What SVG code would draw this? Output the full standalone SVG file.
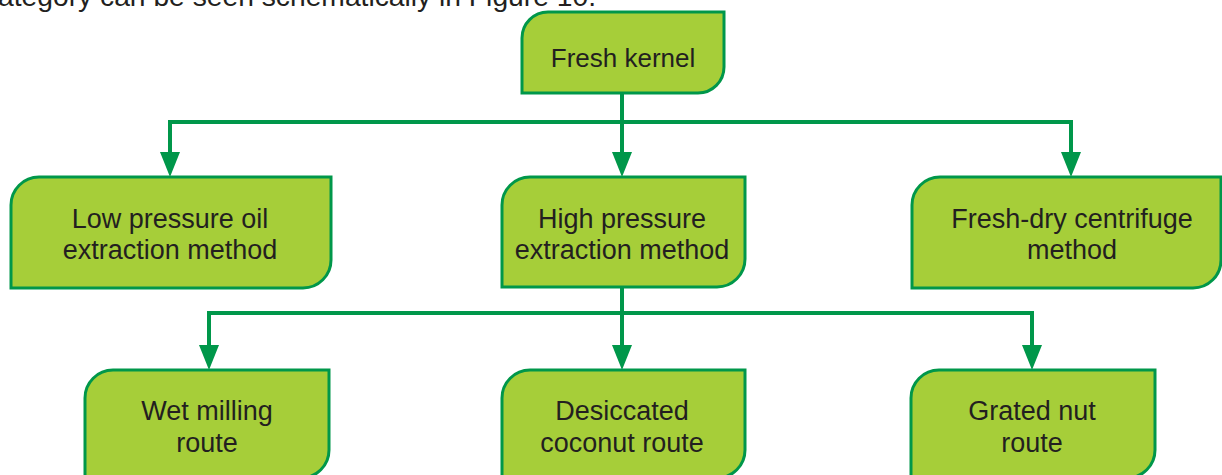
<svg xmlns="http://www.w3.org/2000/svg" width="1222" height="475" viewBox="0 0 1222 475">
  <style>
    .box { fill: #a6ce39; stroke: #00974a; stroke-width: 3; }
    .lbl { font-family: "Liberation Sans", Arial, sans-serif; font-size: 27px; fill: #231f20; text-anchor: middle; }
    .body { font-family: "Liberation Sans", Arial, sans-serif; font-size: 28px; fill: #231f20; }
    .wire { fill: none; stroke: #00974a; stroke-width: 4; marker-end: url(#head); }
  </style>
  <defs>
    <marker id="head" markerUnits="userSpaceOnUse" viewBox="0 0 25 20" markerWidth="25" markerHeight="20" refX="0" refY="10" orient="auto">
      <path d="M0,0 L25,10 L0,20 Z" fill="#00974a"/>
    </marker>
  </defs>

  <!-- tail of the running paragraph above the chart -->
  <text class="body" x="-2" y="6" textLength="598" lengthAdjust="spacingAndGlyphs">ategory can be seen schematically in Figure 10.</text>

  <g id="connectors">
    <path class="wire" d="M622,93 V152"/>
    <path class="wire" d="M622,122 H170 V152"/>
    <path class="wire" d="M622,122 H1071 V152"/>
    <path class="wire" d="M622,287 V345"/>
    <path class="wire" d="M622,313 H209 V345"/>
    <path class="wire" d="M622,313 H1032 V345"/>
  </g>

  <g id="fresh-kernel">
    <path class="box" d="M548,12 H724 V67 A26,26 0 0 1 698,93 H522 V38 A26,26 0 0 1 548,12 Z"/>
    <text class="lbl" x="623" y="67" style="font-size:26px">Fresh kernel</text>
  </g>

  <g id="low-pressure">
    <path class="box" d="M39,177 H331 V260 A28,28 0 0 1 303,288 H11 V205 A28,28 0 0 1 39,177 Z"/>
    <text class="lbl" x="170" y="228">Low pressure oil</text>
    <text class="lbl" x="170" y="259">extraction method</text>
  </g>

  <g id="high-pressure">
    <path class="box" d="M530,177 H745 V259 A28,28 0 0 1 717,287 H502 V205 A28,28 0 0 1 530,177 Z"/>
    <text class="lbl" x="622" y="228">High pressure</text>
    <text class="lbl" x="622" y="259">extraction method</text>
  </g>

  <g id="fresh-dry">
    <path class="box" d="M940,177 H1221 V260 A28,28 0 0 1 1193,288 H912 V205 A28,28 0 0 1 940,177 Z"/>
    <text class="lbl" x="1072" y="228">Fresh-dry centrifuge</text>
    <text class="lbl" x="1072" y="259">method</text>
  </g>

  <g id="wet-milling">
    <path class="box" d="M113,370 H329 V450 A28,28 0 0 1 301,478 H85 V398 A28,28 0 0 1 113,370 Z"/>
    <text class="lbl" x="207" y="420">Wet milling</text>
    <text class="lbl" x="207" y="452">route</text>
  </g>

  <g id="desiccated">
    <path class="box" d="M530,370 H745 V450 A28,28 0 0 1 717,478 H502 V398 A28,28 0 0 1 530,370 Z"/>
    <text class="lbl" x="622" y="420">Desiccated</text>
    <text class="lbl" x="622" y="452">coconut route</text>
  </g>

  <g id="grated-nut">
    <path class="box" d="M939,370 H1155 V450 A28,28 0 0 1 1127,478 H911 V398 A28,28 0 0 1 939,370 Z"/>
    <text class="lbl" x="1032" y="420">Grated nut</text>
    <text class="lbl" x="1032" y="452">route</text>
  </g>
</svg>
